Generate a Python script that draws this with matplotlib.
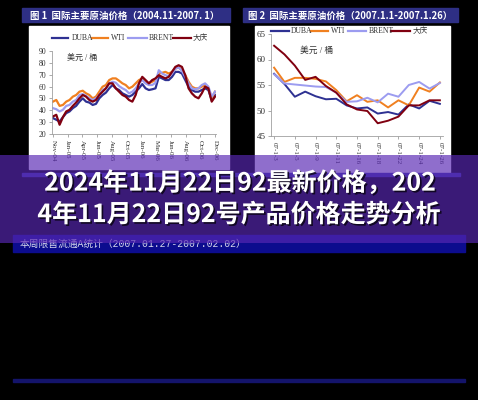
import matplotlib
matplotlib.use("Agg")
import matplotlib.pyplot as plt
from matplotlib.patches import Rectangle
from matplotlib.lines import Line2D
import matplotlib.patheffects as pe

W, H = 478, 400

# crude prices, Nov 2004 - Jan 2007 (USD / barrel)
dubai_long = [33.4, 32.0, 30.6, 34.2, 37.6, 39.0, 41.8, 43.7, 47.3, 50.1,
              47.3, 46.5, 44.5, 45.4, 50.1, 52.9, 54.9, 58.5, 61.3, 58.5,
              57.1, 54.3, 52.9, 51.5, 52.9, 55.7, 58.5, 62.1, 58.5, 57.1,
              57.7, 58.5, 68.2, 66.9, 65.5, 65.5, 68.2, 72.4, 72.4, 71.0,
              65.5, 59.9, 57.1, 55.7, 55.7, 57.1, 58.5, 57.1, 48.7, 52.9]
wti_long = [47.3, 48.7, 43.7, 44.5, 47.3, 48.7, 51.5, 52.9, 55.7, 56.5,
            54.3, 52.9, 50.1, 51.5, 55.7, 59.9, 61.3, 65.5, 66.9, 66.9,
            64.9, 62.7, 61.3, 58.5, 59.9, 62.7, 65.5, 66.9, 64.1, 62.7,
            64.1, 65.5, 71.0, 71.6, 72.4, 71.0, 72.4, 75.2, 76.1, 73.8,
            69.6, 64.1, 59.9, 58.5, 58.5, 59.9, 61.3, 58.5, 50.1, 55.7]
brent_long = [41.8, 40.9, 39.0, 40.4, 43.7, 44.5, 47.3, 48.7, 52.9, 53.7,
              52.1, 50.1, 48.7, 50.1, 52.9, 57.1, 58.5, 62.7, 64.1, 63.2,
              60.4, 58.5, 57.1, 54.3, 55.7, 58.5, 62.7, 65.5, 62.7, 61.3,
              61.3, 63.2, 73.8, 71.0, 69.6, 68.8, 71.0, 75.2, 76.1, 73.3,
              68.2, 62.7, 58.5, 57.7, 58.5, 61.3, 62.7, 59.9, 51.5, 55.7]
daqing_long = [34.8, 36.2, 27.8, 34.2, 39.0, 40.4, 43.7, 46.5, 50.1, 52.9,
               51.5, 48.7, 47.3, 48.7, 52.9, 55.7, 58.5, 62.7, 62.7, 58.5,
               55.7, 52.9, 51.5, 48.7, 47.3, 52.9, 62.7, 68.2, 65.5, 62.7,
               65.5, 66.9, 69.6, 68.2, 66.9, 68.2, 72.4, 76.6, 78.0, 76.6,
               69.6, 58.5, 54.3, 51.5, 50.1, 54.3, 59.9, 58.5, 47.3, 51.5]
long_labels = ["Nov-04", "Jan-05", "Apr-05", "Jun-05", "Aug-05", "Oct-05",
               "Jan-06", "Mar-06", "Jun-06", "Aug-06", "Oct-06", "Dec-06"]

# crude prices, 2007-01-03 .. 2007-01-26 (trading days)
dubai_jan = [57.2, 55.2, 52.7, 53.7, 52.8, 52.2, 52.3, 51.0, 50.4, 50.6,
             49.4, 49.7, 49.2, 51.2, 50.4, 51.9, 51.3]
wti_jan = [58.4, 55.6, 56.4, 56.4, 56.2, 55.7, 54.0, 51.8, 53.0, 51.7,
           52.0, 50.6, 52.0, 51.0, 54.5, 53.7, 55.5]
brent_jan = [57.1, 55.3, 55.1, 54.9, 54.7, 54.6, 53.5, 51.7, 51.8, 52.5,
             51.6, 53.3, 52.7, 55.0, 55.6, 54.3, 55.4]
daqing_jan = [62.7, 61.0, 58.8, 56.0, 56.6, 54.8, 53.5, 51.2, 50.2, 49.9,
              47.5, 48.0, 48.8, 51.0, 51.0, 52.0, 52.0]
jan_labels = ["07-1-3", "07-1-5", "07-1-9", "07-1-11", "07-1-16",
              "07-1-18", "07-1-22", "07-1-24", "07-1-26"]

names = ["DUBA", "WTI", "BRENT", "大庆"]
colors = ["#2e3192", "#f08020", "#9c9cf0", "#800010"]

LATIN = ["Liberation Serif", "Noto Sans CJK SC"]
CJK = ["Noto Sans CJK SC", "DejaVu Sans"]


def box(x0, y0, x1, y1):
    return [x0 / W, 1 - y1 / H, (x1 - x0) / W, (y1 - y0) / H]


fig = plt.figure(figsize=(W / 100, H / 100), dpi=100, facecolor="black")

bg = fig.add_axes([0, 0, 1, 1], zorder=0)
bg.set_xlim(0, W)
bg.set_ylim(H, 0)
bg.axis("off")

# page pieces behind the charts
bg.add_patch(Rectangle((22, 8), 208, 14, color="#2e2f84"))
bg.add_patch(Rectangle((243, 8), 215, 14, color="#2e2f84"))
bg.add_patch(Rectangle((29, 26), 200, 143, color="white"))
bg.add_patch(Rectangle((255, 26), 195, 148, color="white"))
bg.add_patch(Rectangle((22, 173), 438, 2.5, color="#3a3aa8"))
bg.add_patch(Rectangle((13, 235), 452, 17, color="#0c0c8e"))
bg.add_patch(Rectangle((13, 379), 452, 2.5, color="#14146a"))

bg.text(30, 15.5, "图 1  国际主要原油价格（2004.11-2007. 1）", color="white",
        fontsize=6.8, fontweight="bold", family=CJK, va="center")
bg.text(248, 15.5, "图 2  国际主要原油价格（2007.1.1-2007.1.26）", color="white",
        fontsize=6.8, fontweight="bold", family=CJK, va="center")
bg.text(20, 243.5, "本周限售流通A统计（2007.01.27-2007.02.02）", color="#d8d8ec",
        fontsize=7, family=["Liberation Mono", "Noto Sans CJK SC"], va="center")


def legend_row(y, spans):
    for (x0, x1, xt), name, c in zip(spans, names, colors):
        bg.add_line(Line2D([x0, x1], [y, y], color=c, lw=1.6))
        bg.text(xt, y, name, fontsize=5.5, family=LATIN, color="#333333",
                va="center")


legend_row(38, [(52, 68, 72), (92, 108, 111), (128, 147, 149), (173, 191, 193)])
legend_row(31, [(271, 289, 291), (311, 328, 331), (348, 366, 369), (391, 410, 413)])
bg.text(67, 57.5, "美元 / 桶", fontsize=5.8, family=LATIN, color="#333333",
        va="center")
bg.text(300, 51, "美元 / 桶", fontsize=6.3, family=LATIN, color="#333333",
        va="center")


def price_panel(rect, series, ylim, yticks, labels, label_step, ysize, lw):
    ax = fig.add_axes(box(*rect), zorder=1)
    ax.patch.set_visible(False)
    for vals, c in zip(series, colors):
        ax.plot(range(len(vals)), vals, color=c, lw=lw)
    n = len(series[0])
    ax.set_xlim(-0.3, n - 0.7)
    ax.set_ylim(*ylim)
    ax.set_yticks(yticks)
    ax.set_yticklabels([str(t) for t in yticks], fontsize=ysize,
                       family=LATIN, color="#333333")
    ax.set_xticks([i * label_step for i in range(len(labels))])
    ax.set_xticklabels(labels, rotation=-90, fontsize=5, family=LATIN,
                       color="#333333", va="top")
    ax.tick_params(length=2, width=0.5, colors="#888888", pad=2,
                   labelcolor="#333333")
    for s in ("top", "right"):
        ax.spines[s].set_visible(False)
    for s in ("left", "bottom"):
        ax.spines[s].set_color("#a0a0a0")
        ax.spines[s].set_linewidth(0.6)
    return ax


price_panel((52, 51, 216, 134),
            [dubai_long, wti_long, brent_long, daqing_long],
            (20, 90), list(range(20, 91, 10)), long_labels, 49 / 11, 5.5, 1.6)
price_panel((271, 34, 443, 136),
            [dubai_jan, wti_jan, brent_jan, daqing_jan],
            (45, 65), list(range(45, 66, 5)), jan_labels, 2, 6.5, 1.4)

# translucent banner with the headline
ov = fig.add_axes([0, 0, 1, 1], zorder=3)
ov.set_xlim(0, W)
ov.set_ylim(H, 0)
ov.axis("off")
ov.add_patch(Rectangle((0, 155), W, 88, color="#5827b3", alpha=0.67, lw=0))

shadow = [pe.withSimplePatchShadow(offset=(1.2, -1.2), shadow_rgbFace="black",
                                   alpha=0.7)]
ov.text(240, 183, "2024年11月22日92最新价格，202", color="white", fontsize=18,
        fontweight="bold", family=CJK, ha="center", va="center",
        path_effects=shadow)
ov.text(239, 215, "4年11月22日92号产品价格走势分析", color="white", fontsize=18,
        fontweight="bold", family=CJK, ha="center", va="center",
        path_effects=shadow)

fig.savefig("out.png", dpi=100, facecolor="black")
